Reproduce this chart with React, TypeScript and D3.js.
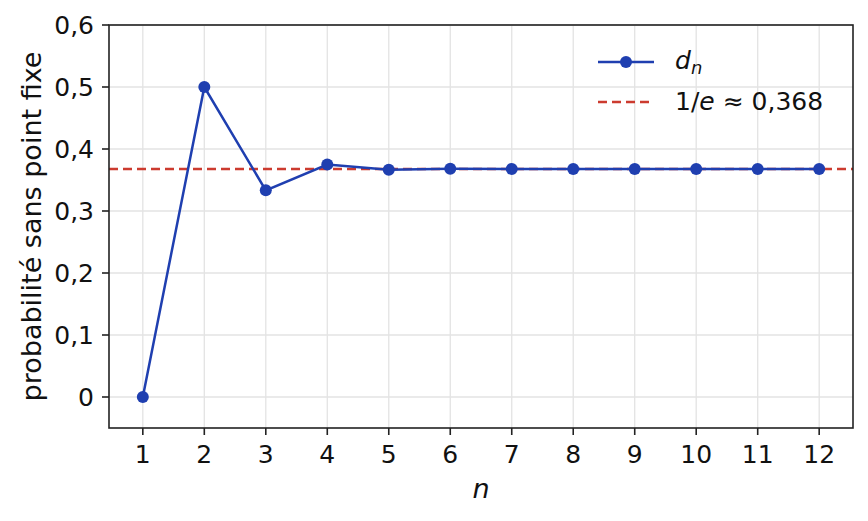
import { useEffect, useRef } from "react";
import * as d3 from "d3";

// n values and probability that a random permutation has no fixed point
const nValues = [1, 2, 3, 4, 5, 6, 7, 8, 9, 10, 11, 12];
const dnValues = [0, 0.5, 0.3333, 0.375, 0.3667, 0.3681, 0.3679, 0.3679, 0.3679, 0.3679, 0.3679, 0.3679];
const invE = 0.3679;
const yTicks = [0, 0.1, 0.2, 0.3, 0.4, 0.5, 0.6];

const FONT = "DejaVu Sans, sans-serif";

function Chart() {
  const ref = useRef<SVGSVGElement>(null);

  useEffect(() => {
    const el = ref.current;
    if (!el) return;
    const W = 868, H = 521, M = { top: 25, right: 15, bottom: 93, left: 109 };
    const svg = d3.select(el).attr("width", W).attr("height", H).attr("viewBox", `0 0 ${W} ${H}`);
    svg.selectAll("*").remove();

    const x = d3.scaleLinear().domain([0.45, 12.55]).range([M.left, W - M.right]);
    const y = d3.scaleLinear().domain([-0.05, 0.6]).range([H - M.bottom, M.top]);
    const fmt = (v: number) => (v === 0 ? "0" : d3.format(".1f")(v).replace(".", ","));

    // grid
    nValues.forEach((n) => {
      svg.append("line").attr("x1", x(n)).attr("x2", x(n)).attr("y1", M.top).attr("y2", H - M.bottom)
        .attr("stroke", "#e3e3e3").attr("stroke-width", 1.3);
    });
    yTicks.forEach((t) => {
      svg.append("line").attr("x1", M.left).attr("x2", W - M.right).attr("y1", y(t)).attr("y2", y(t))
        .attr("stroke", "#e3e3e3").attr("stroke-width", 1.3);
    });

    // 1/e reference
    svg.append("line").attr("x1", M.left).attr("x2", W - M.right).attr("y1", y(invE)).attr("y2", y(invE))
      .attr("stroke", "#cc3b2f").attr("stroke-width", 2.5).attr("stroke-dasharray", "9 5");

    // series
    const line = d3.line<number>().x((_d, i) => x(nValues[i])).y((d) => y(d));
    svg.append("path").datum(dnValues).attr("fill", "none").attr("stroke", "#1f3fb0").attr("stroke-width", 2.5).attr("d", line);
    svg.append("g").selectAll("circle").data(dnValues).join("circle")
      .attr("cx", (_d, i) => x(nValues[i])).attr("cy", (d) => y(d)).attr("r", 6).attr("fill", "#1f3fb0");

    // spines
    svg.append("rect").attr("x", M.left).attr("y", M.top).attr("width", W - M.left - M.right).attr("height", H - M.top - M.bottom)
      .attr("fill", "none").attr("stroke", "#222").attr("stroke-width", 1.6);

    // x ticks
    nValues.forEach((n) => {
      svg.append("line").attr("x1", x(n)).attr("x2", x(n)).attr("y1", H - M.bottom).attr("y2", H - M.bottom + 7)
        .attr("stroke", "#222").attr("stroke-width", 1.6);
      svg.append("text").attr("x", x(n)).attr("y", 463).attr("text-anchor", "middle")
        .attr("font-family", FONT).attr("font-size", 25).attr("fill", "#111").text(n);
    });
    // y ticks
    yTicks.forEach((t) => {
      svg.append("line").attr("x1", M.left - 7).attr("x2", M.left).attr("y1", y(t)).attr("y2", y(t))
        .attr("stroke", "#222").attr("stroke-width", 1.6);
      svg.append("text").attr("x", M.left - 15).attr("y", y(t) + 9).attr("text-anchor", "end")
        .attr("font-family", FONT).attr("font-size", 25).attr("fill", "#111").text(fmt(t));
    });

    // axis labels
    svg.append("text").attr("x", (M.left + W - M.right) / 2).attr("y", 498).attr("text-anchor", "middle")
      .attr("font-family", FONT).attr("font-size", 27).attr("font-style", "italic").attr("fill", "#111").text("n");
    svg.append("text").attr("transform", `translate(41,${(M.top + H - M.bottom) / 2}) rotate(-90)`).attr("text-anchor", "middle")
      .attr("font-family", FONT).attr("font-size", 27).attr("fill", "#111").text("probabilité sans point fixe");

    // legend
    const lg = svg.append("g").attr("transform", "translate(598,62)");
    lg.append("line").attr("x1", 0).attr("x2", 56).attr("y1", 0).attr("y2", 0).attr("stroke", "#1f3fb0").attr("stroke-width", 2.5);
    lg.append("circle").attr("cx", 28).attr("cy", 0).attr("r", 6).attr("fill", "#1f3fb0");
    const t1 = lg.append("text").attr("x", 77).attr("y", 7).attr("font-family", FONT).attr("font-size", 25).attr("fill", "#111");
    t1.append("tspan").attr("font-style", "italic").text("d");
    t1.append("tspan").attr("font-style", "italic").attr("font-size", 18).attr("dy", 5).text("n");
    lg.append("line").attr("x1", 0).attr("x2", 56).attr("y1", 40).attr("y2", 40).attr("stroke", "#cc3b2f").attr("stroke-width", 2.5).attr("stroke-dasharray", "9 5");
    const t2 = lg.append("text").attr("x", 77).attr("y", 48).attr("font-family", FONT).attr("font-size", 25).attr("fill", "#111")
      .attr("xml:space", "preserve").style("white-space", "pre");
    t2.append("tspan").text("1/");
    t2.append("tspan").attr("font-style", "italic").text("e");
    t2.append("tspan").text(" ≈ ");
    t2.append("tspan").text("0,368");
  }, []);

  return <svg ref={ref} role="img" aria-label="Probabilité sans point fixe" style={{ display: "block" }} />;
}

export default function App() {
  return (
    <div style={{ margin: -8 }}>
      <Chart />
    </div>
  );
}
